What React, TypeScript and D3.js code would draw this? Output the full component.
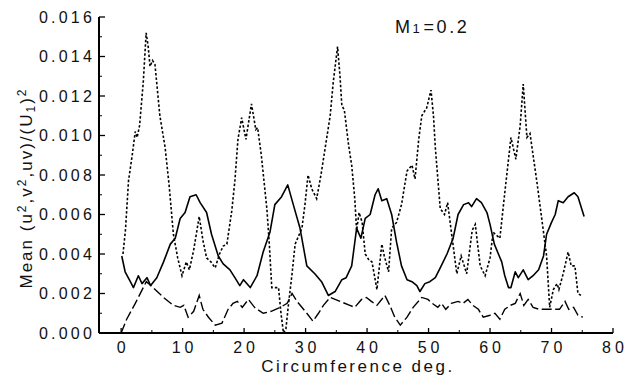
import React from "react";
import * as d3 from "d3";

// ---- data ----
const xTicks = [0, 10, 20, 30, 40, 50, 60, 70, 80];
const xMinorTicks = [5, 15, 25, 35, 45, 55, 65, 75];
const yTicks = [0, 0.002, 0.004, 0.006, 0.008, 0.01, 0.012, 0.014, 0.016];
const yMinorTicks = [0.001, 0.003, 0.005, 0.007, 0.009, 0.011, 0.013, 0.015];

// v2 (dotted)
const dottedX = [0.3,0.7,1.2,1.8,2.3,2.6,3.0,3.6,4.07,4.4,4.7,5.1,5.5,6.3,7.15,7.8,8.5,9.2,9.9,10.6,11.1,11.8,12.7,13.3,13.9,14.6,15.3,16.0,16.6,17.2,18.0,18.5,19.0,19.6,20.3,21.2,21.9,22.2,22.8,23.7,24.1,24.5,25.6,26.0,26.4,26.8,27.2,27.8,28.3,29.4,29.9,30.4,31.0,31.8,32.5,33.2,34.0,34.5,35.2,35.6,35.9,36.3,37.0,37.5,38.0,38.3,38.7,39.2,39.7,40.3,40.8,41.6,42.4,42.8,43.5,44.0,44.8,45.6,46.5,47.3,47.8,48.4,48.9,49.7,50.4,50.8,51.1,51.9,52.6,53.1,53.8,54.6,55.3,56.2,57.1,57.6,58.4,59.2,60.0,60.5,61.6,62.4,63.4,64.2,64.9,65.4,66.0,66.5,67.6,68.7,69.2,69.7,70.3,70.9,71.2,71.9,72.7,73.2,73.8,74.3,74.8];
const dottedY = [0.0040,0.0052,0.0077,0.0090,0.0102,0.0099,0.0105,0.0127,0.0152,0.0145,0.0135,0.0138,0.0136,0.0110,0.0094,0.0075,0.0050,0.0038,0.0029,0.0036,0.0032,0.0042,0.0059,0.0047,0.0038,0.0036,0.0033,0.0040,0.0044,0.0045,0.0062,0.0077,0.0098,0.0109,0.0098,0.0116,0.0103,0.0104,0.0090,0.0063,0.0045,0.0023,0.0023,0.0010,0.0000,0.0002,0.0014,0.0030,0.0045,0.0053,0.0065,0.0080,0.0073,0.0068,0.0080,0.0094,0.0110,0.0127,0.0145,0.0130,0.0115,0.0113,0.0095,0.0085,0.0068,0.0052,0.0061,0.0056,0.0040,0.0037,0.0036,0.0022,0.0045,0.0039,0.0031,0.0053,0.0056,0.0065,0.0082,0.0085,0.0078,0.0098,0.0110,0.0114,0.0123,0.0110,0.0094,0.0063,0.0060,0.0066,0.0049,0.0030,0.0039,0.0030,0.0052,0.0055,0.0034,0.0029,0.0038,0.0051,0.0048,0.0071,0.0099,0.0088,0.0105,0.0126,0.0099,0.0101,0.0077,0.0051,0.0039,0.0013,0.0022,0.0025,0.0022,0.0030,0.0041,0.0034,0.0034,0.0020,0.0019];

// u2 (solid)
const solidX = [0.1,0.65,1.5,2.0,2.8,3.4,4.2,4.8,5.8,6.9,8.0,8.8,9.6,10.4,11.2,12.2,12.85,13.9,14.7,15.8,16.6,17.7,18.5,19.3,19.9,21.0,22.1,23.1,24.2,25.0,26.1,27.1,28.0,29.1,30.2,31.5,32.6,33.7,34.8,35.9,36.6,37.5,38.3,39.0,39.7,40.5,41.3,41.8,42.4,43.2,44.0,44.8,45.6,46.5,47.3,48.1,48.6,49.4,50.2,51.1,51.9,53.0,54.0,54.8,55.7,56.5,57.0,57.8,58.6,59.5,60.0,60.7,61.5,61.9,62.4,63.0,63.4,64.1,64.6,65.4,66.2,67.0,67.9,68.7,69.2,70.0,70.6,71.1,71.9,72.7,73.7,74.3,75.3];
const solidY = [0.0039,0.0031,0.0026,0.0023,0.0029,0.0025,0.0028,0.0024,0.0028,0.0036,0.0045,0.0048,0.0058,0.0061,0.0069,0.0070,0.0066,0.0061,0.0050,0.0039,0.0035,0.0032,0.0028,0.0024,0.0027,0.0023,0.0029,0.0041,0.0051,0.0065,0.0069,0.0075,0.0065,0.0053,0.0034,0.0030,0.0026,0.0019,0.0021,0.0027,0.0028,0.0034,0.0053,0.0048,0.0058,0.0060,0.0070,0.0073,0.0067,0.0068,0.0060,0.0046,0.0034,0.0027,0.0026,0.0024,0.0021,0.0025,0.0026,0.0028,0.0033,0.0040,0.0048,0.0060,0.0065,0.0066,0.0064,0.0068,0.0066,0.0061,0.0055,0.0045,0.0039,0.0036,0.0029,0.0023,0.0023,0.0031,0.0028,0.0032,0.0027,0.0029,0.0032,0.0039,0.0050,0.0056,0.0060,0.0067,0.0066,0.0069,0.0071,0.0069,0.0059];

// uv (dashed)
const dashedX = [0.0,0.9,2.3,3.6,4.1,5.2,6.9,8.5,9.6,10.2,10.9,11.8,12.7,13.3,14.2,15.3,16.4,17.4,18.2,18.9,19.7,20.7,21.7,23.1,24.4,25.9,27.0,27.8,28.6,30.2,31.2,32.1,32.9,34.0,35.6,37.2,38.0,39.1,39.9,40.7,41.6,42.9,43.7,44.5,45.4,46.5,47.5,48.9,49.9,50.6,51.5,52.1,52.8,53.7,54.8,55.6,56.4,57.2,58.1,58.9,60.0,60.8,61.6,62.4,63.3,64.1,64.9,65.5,66.2,67.0,68.0,68.9,70.3,71.3,72.2,72.8,73.6,74.3,75.1];
const dashedY = [0.0000,0.0007,0.0015,0.0023,0.0026,0.0023,0.0018,0.0014,0.0013,0.0014,0.0008,0.0011,0.0019,0.0012,0.0008,0.0004,0.0005,0.0012,0.0015,0.0016,0.0013,0.0017,0.0013,0.0010,0.0011,0.0013,0.0015,0.0020,0.0016,0.0010,0.0006,0.0010,0.0014,0.0018,0.0016,0.0014,0.0013,0.0017,0.0018,0.0016,0.0014,0.0019,0.0014,0.0008,0.0004,0.0008,0.0013,0.0018,0.0017,0.0015,0.0013,0.0015,0.0012,0.0015,0.0016,0.0015,0.0017,0.0014,0.0012,0.0008,0.0009,0.0010,0.0007,0.0012,0.0014,0.0015,0.0020,0.0014,0.0017,0.0013,0.0012,0.0012,0.0012,0.0012,0.0016,0.0012,0.0013,0.0009,0.0008];

const xLabel = "Circumference deg.";
const FONT = "'Liberation Sans', Arial, sans-serif";

export default function App() {
  const W = 631, H = 386;
  const x = d3.scaleLinear().domain([-3.6, 80]).range([99, 613]);
  const y = d3.scaleLinear().domain([0, 0.016]).range([333, 17]);
  const fmt = d3.format(".3f");
  const line = d3.line<[number, number]>().x(d => x(d[0])).y(d => y(d[1])).curve(d3.curveLinear);
  const zip = (a: number[], b: number[]) => a.map((v, i) => [v, b[i]] as [number, number]);
  const [x0, x1] = x.range();
  const [y0, y1] = y.range();

  return (
    <svg width={W} height={H} style={{ position: "absolute", left: 0, top: 0, background: "#fff" }}>
      <rect width={W} height={H} fill="#fff" />
      {/* axes */}
      <line x1={x0} x2={x0} y1={y1} y2={y0} stroke="#000" strokeWidth={2} />
      <line x1={x0} x2={x1} y1={y0} y2={y0} stroke="#000" strokeWidth={2} />
      {yTicks.map(t => (
        <g key={"yt" + t}>
          <line x1={x0} x2={x0 + 6} y1={y(t)} y2={y(t)} stroke="#000" strokeWidth={1.3} />
          <text x={95} y={y(t)} dy="0.36em" textAnchor="end" fontFamily={FONT} fontSize={16} letterSpacing={3.2} fill="#111">{fmt(t)}</text>
        </g>
      ))}
      {yMinorTicks.map(t => (
        <line key={"ym" + t} x1={x0} x2={x0 + 3} y1={y(t)} y2={y(t)} stroke="#000" strokeWidth={1} />
      ))}
      {xTicks.map(t => (
        <g key={"xt" + t}>
          <line x1={x(t)} x2={x(t)} y1={y0} y2={y0 - 5} stroke="#000" strokeWidth={1.3} />
          <text x={x(t) + 2} y={353} textAnchor="middle" fontFamily={FONT} fontSize={16} letterSpacing={4} fill="#111">{t}</text>
        </g>
      ))}
      {xMinorTicks.map(t => (
        <line key={"xm" + t} x1={x(t)} x2={x(t)} y1={y0} y2={y0 - 3} stroke="#000" strokeWidth={1} />
      ))}
      {/* series */}
      <path d={line(zip(solidX, solidY)) || ""} fill="none" stroke="#000" strokeWidth={1.6} strokeLinejoin="round" />
      <path d={line(zip(dottedX, dottedY)) || ""} fill="none" stroke="#000" strokeWidth={1.6} strokeDasharray="2.5,2" />
      <path d={line(zip(dashedX, dashedY)) || ""} fill="none" stroke="#000" strokeWidth={1.4} strokeDasharray="10,3.5" />
      {/* title */}
      <text x={395} y={33} fontFamily={FONT} fontSize={18} letterSpacing={2.6} fill="#111">
        M<tspan fontSize={13}>1</tspan>
        <tspan dx={1}>=0.2</tspan>
      </text>
      {/* axis labels */}
      <text x={358} y={372} textAnchor="middle" fontFamily={FONT} fontSize={17} letterSpacing={2.5} fill="#111">{xLabel}</text>
      <text transform="translate(32,188) rotate(-90)" textAnchor="middle" fontFamily={FONT} fontSize={17} letterSpacing={2} fill="#111">
        Mean (u<tspan fontSize={12} dy={-6}>2</tspan><tspan dy={6}>,v</tspan><tspan fontSize={12} dy={-6}>2</tspan><tspan dy={6}>,uv)/(U</tspan><tspan fontSize={12} dy={3}>1</tspan><tspan dy={-3}>)</tspan><tspan fontSize={12} dy={-6}>2</tspan>
      </text>
    </svg>
  );
}
